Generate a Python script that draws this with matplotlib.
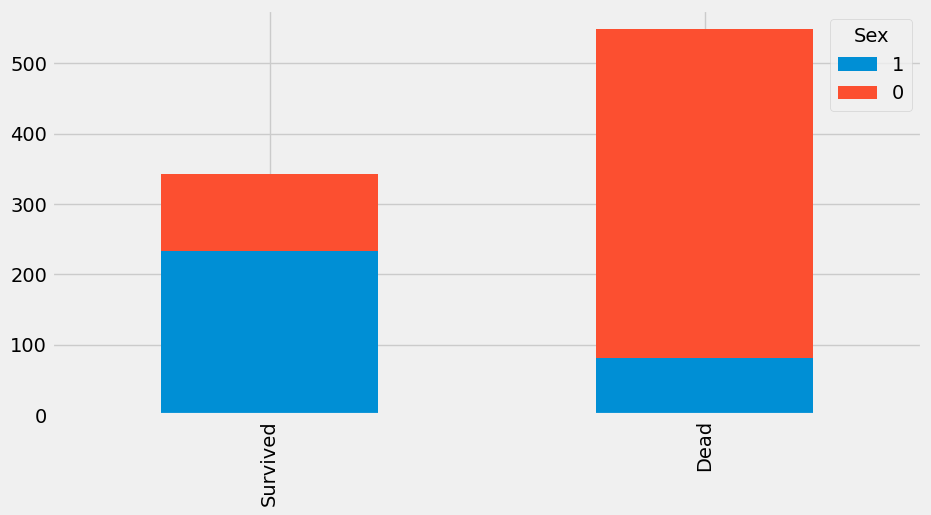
import matplotlib
matplotlib.use('Agg')
import matplotlib.pyplot as plt
import numpy as np

plt.style.use('fivethirtyeight')

# counts
categories = ['Survived', 'Dead']
sex_1 = [233, 81]
sex_0 = [109, 468]

fig = plt.figure(figsize=(9.31, 5.15), dpi=100)
ax = fig.add_axes([0.0559, 0.194, 0.9345, 0.7875])

x = np.arange(len(categories))
ax.bar(x, sex_1, width=0.5, color='#008fd5', label='1')
ax.bar(x, sex_0, width=0.5, bottom=sex_1, color='#fc4f30', label='0')

ax.set_xlim(-0.5, 1.5)
ax.set_ylim(0, 549 * 1.05)
ax.set_xticks(x)
ax.set_xticklabels(categories, rotation=90)
ax.legend(title='Sex', loc='upper right')

fig.savefig('out.png', dpi=100)
